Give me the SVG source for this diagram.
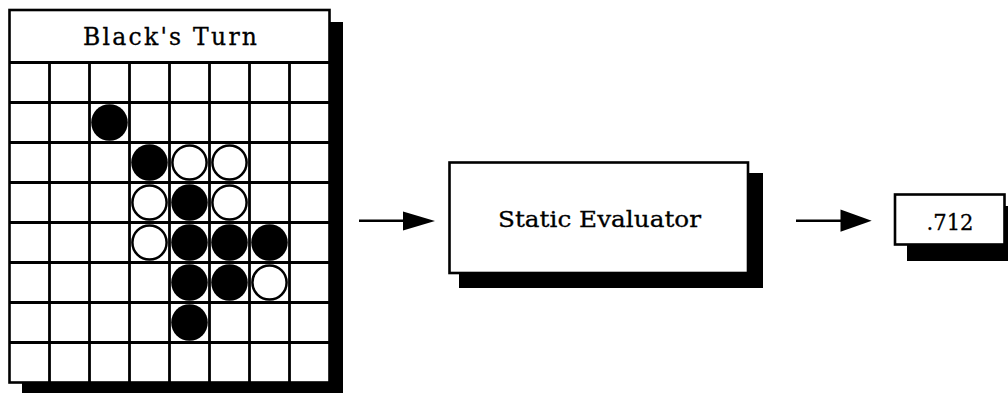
<svg xmlns="http://www.w3.org/2000/svg" width="1008" height="393" viewBox="0 0 1008 393">
  <style>
    .shadow { fill: #000; }
    .box { fill: #fff; stroke: #000; stroke-width: 2.6; }
    .grid { stroke: #000; stroke-width: 2.8; fill: none; }
    .black { fill: #000; }
    .white { fill: #fff; stroke: #000; stroke-width: 2.5; }
    .label { font-family: "DejaVu Serif", "Liberation Serif", serif; fill: #000; stroke: #000; stroke-width: 0.3; text-anchor: middle; }
    .wire { stroke: #000; stroke-width: 2.6; fill: none; }
    .head { fill: #000; }
  </style>
  <rect width="1008" height="393" fill="#fff"/>

  <!-- Board with header -->
  <g id="board">
    <rect class="shadow" x="22" y="22" width="321" height="380"/>
    <rect class="box" x="9.5" y="10" width="320" height="372.5"/>
    <text class="label" x="170" y="45" font-size="23.5" textLength="174" lengthAdjust="spacing">Black's Turn</text>
    <g class="grid">
      <!-- horizontal lines -->
      <path d="M9.5 62.5H329.5M9.5 102.5H329.5M9.5 142.5H329.5M9.5 182.5H329.5M9.5 222.5H329.5M9.5 262.5H329.5M9.5 302.5H329.5M9.5 342.5H329.5"/>
      <!-- vertical lines -->
      <path d="M49.5 62.5V382.5M89.5 62.5V382.5M129.5 62.5V382.5M169.5 62.5V382.5M209.5 62.5V382.5M249.5 62.5V382.5M289.5 62.5V382.5"/>
    </g>
    <!-- pieces: centre x = 29.5 + 40*col, y = 82.5 + 40*row -->
    <circle class="black" cx="109.5" cy="122.5" r="18.3"/>
    <circle class="black" cx="149.5" cy="162.5" r="18.3"/>
    <circle class="white" cx="189.5" cy="162.5" r="17.1"/>
    <circle class="white" cx="229.5" cy="162.5" r="17.1"/>
    <circle class="white" cx="149.5" cy="202.5" r="17.1"/>
    <circle class="black" cx="189.5" cy="202.5" r="18.3"/>
    <circle class="white" cx="229.5" cy="202.5" r="17.1"/>
    <circle class="white" cx="149.5" cy="242.5" r="17.1"/>
    <circle class="black" cx="189.5" cy="242.5" r="18.3"/>
    <circle class="black" cx="229.5" cy="242.5" r="18.3"/>
    <circle class="black" cx="269.5" cy="242.5" r="18.3"/>
    <circle class="black" cx="189.5" cy="282.5" r="18.3"/>
    <circle class="black" cx="229.5" cy="282.5" r="18.3"/>
    <circle class="white" cx="269.5" cy="282.5" r="17.1"/>
    <circle class="black" cx="189.5" cy="322.5" r="18.3"/>
  </g>

  <!-- Evaluator -->
  <g id="evaluator">
    <rect class="shadow" x="459" y="173" width="304" height="115"/>
    <rect class="box" x="449.5" y="162.5" width="298.5" height="110.5"/>
    <text class="label" x="599.5" y="226.5" font-size="23" textLength="203" lengthAdjust="spacingAndGlyphs">Static Evaluator</text>
  </g>

  <!-- Resulting value -->
  <g id="value">
    <rect class="shadow" x="907" y="206" width="110" height="55"/>
    <rect class="box" x="895" y="194.5" width="109.5" height="50"/>
    <text class="label" x="950" y="230" font-size="23" textLength="47" lengthAdjust="spacingAndGlyphs">.712</text>
  </g>

  <!-- Connectors -->
  <g id="connectors">
    <path class="wire" d="M359 220.7H404"/>
    <polygon class="head" points="403,211.5 435,221 403,230.5"/>
    <path class="wire" d="M796 220.7H842"/>
    <polygon class="head" points="840.5,209.5 871.7,220.7 840.5,231.7"/>
  </g>
</svg>
